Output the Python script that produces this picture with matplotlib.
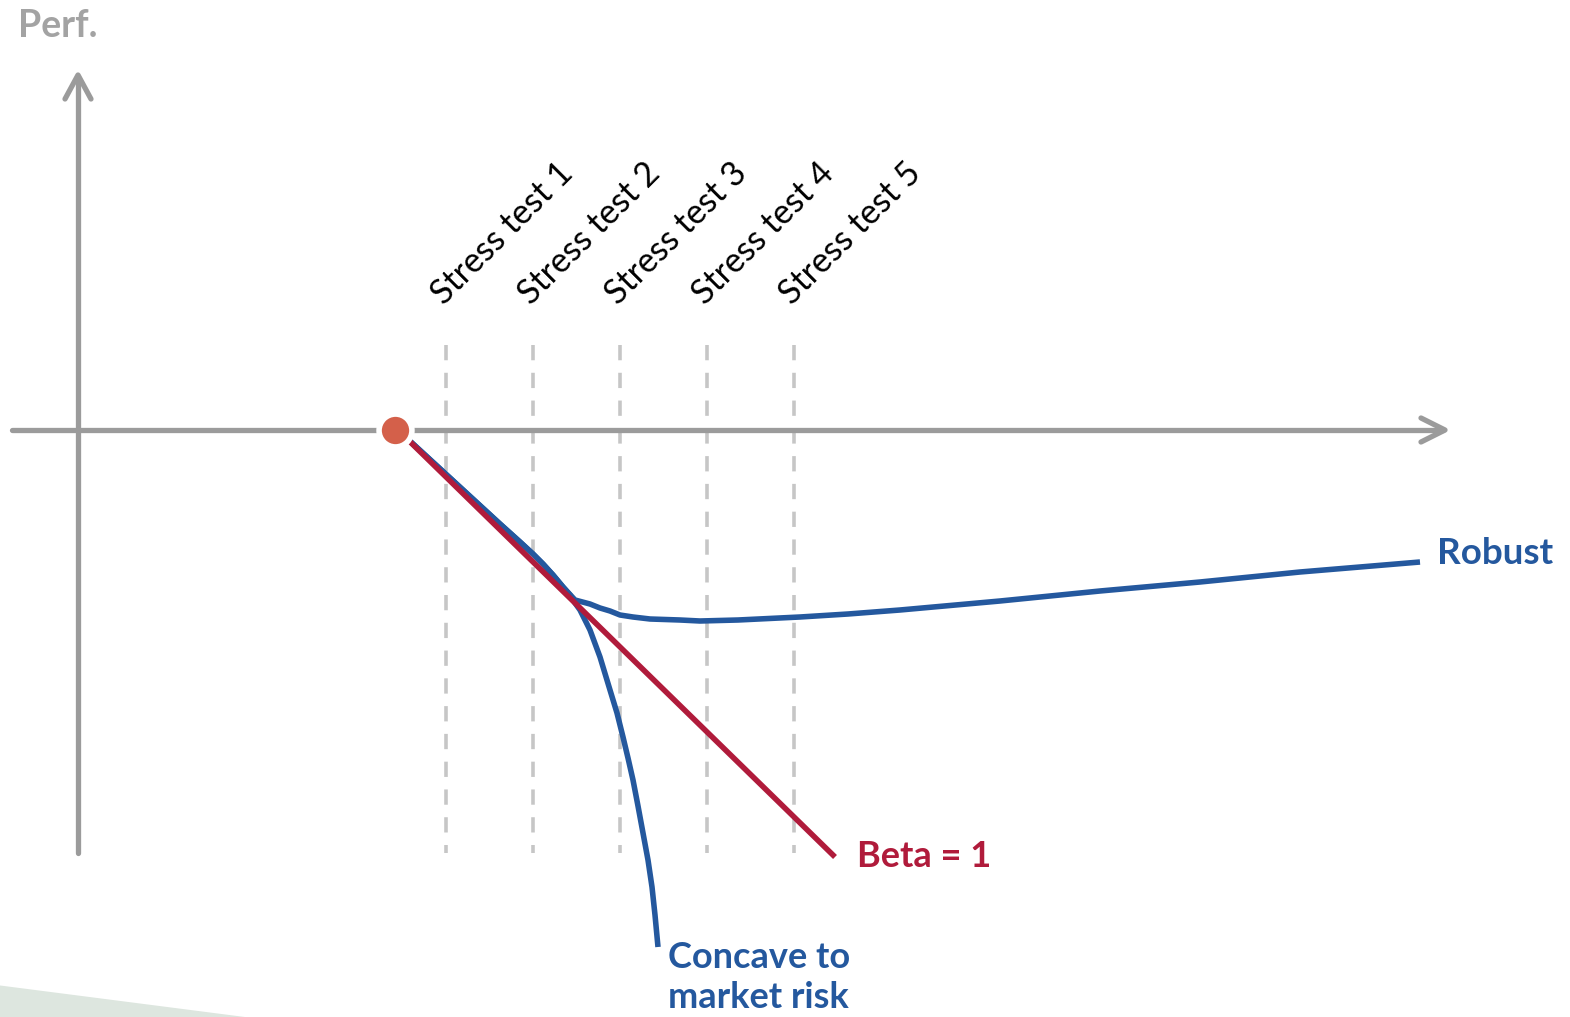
import matplotlib.pyplot as plt
from matplotlib.patches import Polygon

plt.rcParams["font.family"] = ["Lato", "DejaVu Sans"]
plt.rcParams["lines.scale_dashes"] = False

GRAY = "#9b9b9b"
BLUE = "#24589e"
RED = "#b01b3b"
DOT = "#d4604a"

# market move (x) vs performance (y)
start_point = (3.17, 0.0)

stress_x = [3.68, 4.55, 5.42, 6.29, 7.16]
stress_labels = ["Stress test 1", "Stress test 2", "Stress test 3",
                 "Stress test 4", "Stress test 5"]

beta_x = [3.22, 7.57]
beta_y = [-0.02, -4.27]

# common leg of both portfolios before they split
shared_x = [3.22, 3.47, 3.72, 3.97, 4.22, 4.42, 4.55, 4.65, 4.75, 4.85]
shared_y = [-0.02, -0.25, -0.48, -0.71, -0.94, -1.12, -1.24, -1.34,
            -1.45, -1.57]

robust_x = [4.97, 5.12, 5.22, 5.32, 5.37, 5.42, 5.55, 5.72, 6.02, 6.22,
            6.60, 7.22, 7.70, 8.22, 9.22, 10.22, 11.22, 12.22, 13.42]
robust_y = [-1.70, -1.74, -1.78, -1.81, -1.83, -1.85, -1.87, -1.89, -1.90,
            -1.91, -1.90, -1.87, -1.84, -1.80, -1.71, -1.61, -1.52, -1.42,
            -1.32]

concave_x = [4.92, 4.97, 5.02, 5.12, 5.22, 5.32, 5.39, 5.45, 5.50, 5.55,
             5.60, 5.65, 5.70, 5.74, 5.77, 5.80]
concave_y = [-1.65, -1.73, -1.80, -2.00, -2.27, -2.60, -2.83, -3.07, -3.28,
             -3.50, -3.76, -4.03, -4.30, -4.57, -4.85, -5.17]

fig = plt.figure(figsize=(15.7, 10.17), dpi=100)
ax = fig.add_axes([0, 0, 1, 1])
ax.set_xlim(-0.78, 14.92)
ax.set_ylim(-5.87, 4.30)
ax.axis("off")

# light green corner shape
ax.add_patch(Polygon([(0, 0), (0, 0.031), (0.156, 0)], closed=True,
                     transform=ax.transAxes, facecolor="#dde6df",
                     edgecolor="none", zorder=0))

# axes with open arrow heads
axis_kw = dict(color=GRAY, lw=3.8, solid_capstyle="round",
               solid_joinstyle="round", zorder=2)
ax.plot([0, 0], [-4.23, 3.53], **axis_kw)
ax.plot([-0.13, 0, 0.13], [3.31, 3.55, 3.31], **axis_kw)
ax.plot([-0.66, 13.65], [0, 0], **axis_kw)
ax.plot([13.43, 13.67, 13.43], [0.12, 0, -0.12], **axis_kw)

for x, label in zip(stress_x, stress_labels):
    ax.plot([x, x], [0.85, -4.23], color="#c6c6c6", lw=2.6,
            dashes=(11, 9), zorder=1)
    ax.text(x - 0.02, 1.24, label, rotation=45, rotation_mode="anchor",
            ha="left", va="baseline", fontsize=24.5, color="black")

line_kw = dict(lw=4.0, solid_capstyle="butt", solid_joinstyle="round")
ax.plot(shared_x + robust_x, shared_y + robust_y, color=BLUE, zorder=3,
        **line_kw)
ax.plot(shared_x + concave_x, shared_y + concave_y, color=BLUE, zorder=3,
        **line_kw)
ax.plot(beta_x, beta_y, color=RED, zorder=4, **line_kw)

ax.scatter([start_point[0]], [start_point[1]], s=560, color=DOT,
           edgecolor="white", linewidth=4, zorder=5)

ax.text(-0.60, 3.93, "Perf.", fontsize=27, fontweight="bold",
        color="#a3a3a3", ha="left", va="baseline")
ax.text(13.59, -1.24, "Robust", fontsize=26.5, fontweight="bold",
        color=BLUE, ha="left", va="center")
ax.text(7.79, -4.27, "Beta = 1", fontsize=26, fontweight="bold",
        color=RED, ha="left", va="center")
ax.text(5.90, -5.11, "Concave to\nmarket risk", fontsize=26,
        fontweight="bold", color=BLUE, ha="left", va="top",
        linespacing=1.25)

fig.savefig("out.png", dpi=100)
